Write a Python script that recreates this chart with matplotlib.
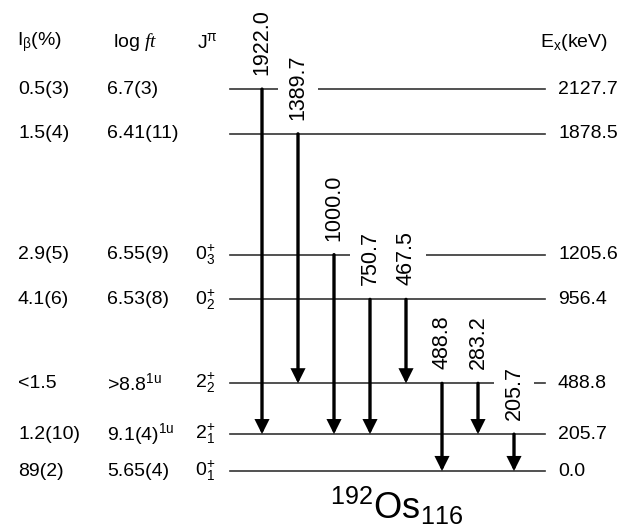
import matplotlib
matplotlib.use("Agg")
import matplotlib.pyplot as plt

plt.rcParams['font.family'] = ['Liberation Sans', 'DejaVu Sans']
plt.rcParams['mathtext.fontset'] = 'custom'
plt.rcParams['mathtext.rm'] = 'Liberation Sans'
plt.rcParams['mathtext.it'] = 'Liberation Serif:italic'
plt.rcParams['mathtext.default'] = 'regular'

# levels of 192Os (keV) and their beta-feeding data
levels = [2127.7, 1878.5, 1205.6, 956.4, 488.8, 205.7, 0.0]
level_labels = ["2127.7", "1878.5", "1205.6", "956.4", "488.8", "205.7", "0.0"]
ibeta = ["0.5(3)", "1.5(4)", "2.9(5)", "4.1(6)", "<1.5", "1.2(10)", "89(2)"]
logft = ["6.7(3)", "6.41(11)", "6.55(9)", "6.53(8)", r">8.8$^{1u}$", r"9.1(4)$^{1u}$", "5.65(4)"]
spins = ["", "", r"$0^{+}_{3}$", r"$0^{+}_{2}$", r"$2^{+}_{2}$", r"$2^{+}_{1}$", r"$0^{+}_{1}$"]

# gamma transitions: energy, initial level, final level
gammas = ["1922.0", "1389.7", "1000.0", "750.7", "467.5", "488.8", "283.2", "205.7"]
g_from = [2127.7, 1878.5, 1205.6, 956.4, 956.4, 488.8, 488.8, 205.7]
g_to = [205.7, 488.8, 205.7, 205.7, 488.8, 0.0, 205.7, 0.0]

fig = plt.figure(figsize=(6.34, 5.26), dpi=100)
ax = fig.add_axes([0, 0, 1, 1])
ax.set_xlim(0, 634)
ax.set_ylim(-306, 2624)
ax.axis('off')

fs = 14
x0, x1 = 230, 545
for e, lab, ib, lf, jp in zip(levels, level_labels, ibeta, logft, spins):
    ax.plot([x0, x1], [e, e], color='#333333', lw=1.2, zorder=1)
    ax.text(558, e, lab, fontsize=fs, va='center', ha='left')
    ax.text(18, e, ib, fontsize=fs, va='center', ha='left')
    ax.text(107, e, lf, fontsize=fs, va='center', ha='left')
    if jp:
        ax.text(195, e, jp, fontsize=fs, va='center', ha='left')

# headers
yh = 2390
ax.text(17, yh, r"I$_{\beta}$(%)", fontsize=fs, va='center', ha='left')
ax.text(113, yh, r"log $\mathit{ft}$", fontsize=fs, va='center', ha='left')
ax.text(197, yh, r"J$^{\pi}$", fontsize=fs, va='center', ha='left')
ax.text(540, yh, r"E$_{x}$(keV)", fontsize=fs, va='center', ha='left')

# transitions
for i, (g, ef, et) in enumerate(zip(gammas, g_from, g_to)):
    x = 262 + 36 * i
    ax.annotate('', xy=(x, et), xytext=(x, ef),
                arrowprops=dict(arrowstyle='-|>,head_width=0.35,head_length=0.7',
                                lw=2.4, color='black', shrinkA=0, shrinkB=0,
                                joinstyle='miter'),
                zorder=3)
    ax.annotate(g, xy=(x, ef), xytext=(0, 10), textcoords='offset points',
                rotation=90, ha='center', va='bottom', fontsize=15.5, zorder=2,
                bbox=dict(boxstyle='square,pad=0.45', fc='white', ec='none'))

ax.text(397, -265, r"$^{192}$Os$_{116}$", fontsize=26, ha='center', va='baseline')

fig.savefig("out.png", dpi=100)
